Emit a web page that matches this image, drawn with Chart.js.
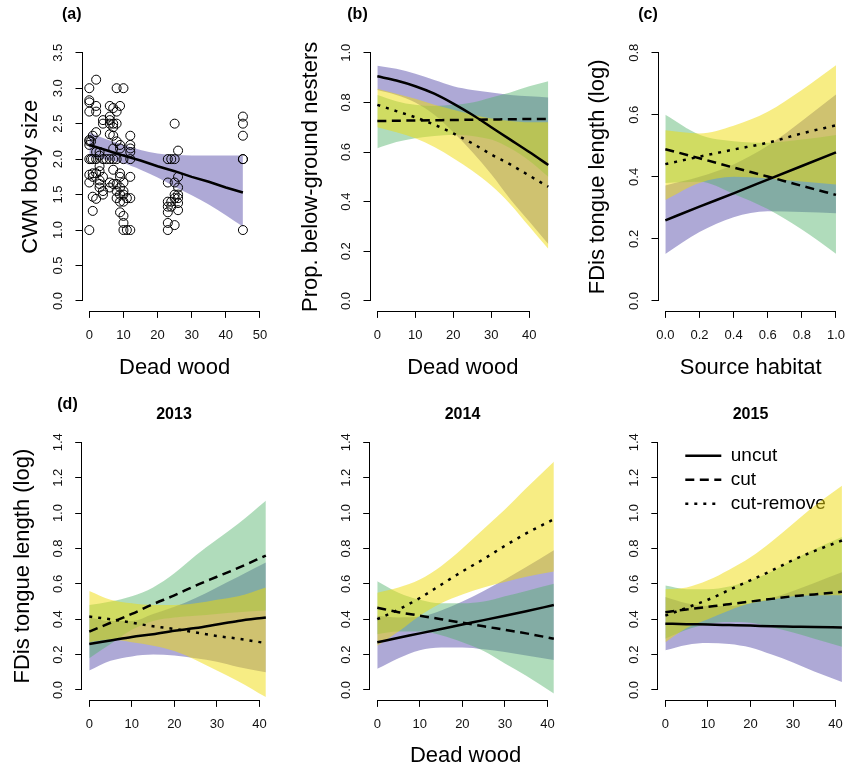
<!DOCTYPE html>
<html lang="en">
<head>
<meta charset="UTF-8">
<title>Dead wood and bee traits</title>
<script src="https://cdn.jsdelivr.net/npm/chart.js"></script>
<style>
  html, body { margin: 0; padding: 0; background: #fff; }
  #wrap { position: relative; width: 849px; height: 769px; }
  canvas { position: absolute; }
</style>
</head>
<body>
<div id="wrap">
  <canvas id="pa" width="283" height="385" style="left:0;top:0"></canvas>
  <canvas id="pb" width="283" height="385" style="left:283px;top:0"></canvas>
  <canvas id="pc" width="283" height="385" style="left:566px;top:0"></canvas>
  <canvas id="pd1" width="283" height="384" style="left:0;top:385px"></canvas>
  <canvas id="pd2" width="283" height="384" style="left:283px;top:385px"></canvas>
  <canvas id="pd3" width="283" height="384" style="left:566px;top:385px"></canvas>
</div>
<script>
// ---- (a) CWM body size vs dead wood: raw sites + fit ----
const aDeadWood = [
  0,0,0,0,0,0,0,0,0,0,0,
  0.5,0.5,
  1,1,1,1,1,1,
  2,2,2,2,2,2,2,2,
  3,3,3,3,3,3,3,
  4,4,4,4,4,4,
  5,
  6,6,6,6,6,6,6,6,
  7,7,7,7,7,7,7,7,
  8,8,8,8,8,8,8,8,
  9,9,9,9,9,9,9,9,9,
  10,10,10,10,10,10,10,10,10,
  11,11,
  12,12,12,12,12,12,12,12,
  23,23,23,23,23,23,23,
  24,24,24,
  25,25,25,25,25,25,
  26,26,26,26,26,26,26,
  45,45,45,45,45,45
];
const aBodySize = [
  3.0,2.83,2.8,2.67,2.27,2.25,2.2,2.0,1.78,1.67,1.0,
  2.25,2.0,
  2.33,2.0,1.8,1.75,1.47,1.27,
  3.12,2.75,2.67,2.38,2.1,2.0,1.8,1.44,
  2.1,2.05,1.9,1.83,1.7,1.65,1.6,
  2.55,2.5,2.0,1.75,1.55,1.5,
  2.0,
  2.75,2.6,2.55,2.5,2.35,2.0,1.67,1.6,
  2.72,2.5,2.45,2.33,2.15,2.0,1.85,1.65,
  3.0,2.67,2.5,2.25,2.0,1.65,1.55,1.45,
  2.75,2.2,2.15,1.8,1.75,1.6,1.5,1.4,1.25,
  3.0,2.0,1.67,1.55,1.5,1.4,1.2,1.1,1.0,
  1.45,1.0,
  2.33,2.2,2.15,2.1,2.0,1.75,1.45,1.0,
  2.0,1.67,1.4,1.33,1.25,1.1,1.0,
  2.0,1.4,1.33,
  2.5,2.0,1.67,1.5,1.45,1.07,
  2.12,1.75,1.6,1.5,1.45,1.38,1.28,
  2.6,2.5,2.33,2.0,2.0,1.0
];
const aGrid = [0, 5, 10, 15, 20, 25, 30, 35, 40, 45];
const aFit  = [2.20, 2.125, 2.05, 1.98, 1.90, 1.83, 1.75, 1.68, 1.60, 1.53];
const aLo   = [2.03, 1.99, 1.94, 1.85, 1.74, 1.61, 1.49, 1.36, 1.21, 1.05];
const aHi   = [2.38, 2.28, 2.20, 2.13, 2.08, 2.06, 2.05, 2.05, 2.05, 2.05];

// ---- (b) proportion below-ground nesters ----
const bGrid = [0, 5, 10, 15, 20, 25, 30, 35, 40, 45];
const bUncut   = [0.905, 0.888, 0.865, 0.835, 0.795, 0.75, 0.70, 0.65, 0.60, 0.548];
const bUncutLo = [0.85, 0.83, 0.80, 0.75, 0.68, 0.60, 0.51, 0.41, 0.32, 0.23];
const bUncutHi = [0.948, 0.935, 0.915, 0.89, 0.865, 0.85, 0.84, 0.83, 0.825, 0.82];
const bCut     = [0.725, 0.726, 0.727, 0.728, 0.729, 0.73, 0.731, 0.732, 0.733, 0.733];
const bCutLo   = [0.615, 0.64, 0.655, 0.665, 0.67, 0.665, 0.65, 0.615, 0.565, 0.50];
const bCutHi   = [0.83, 0.805, 0.79, 0.785, 0.79, 0.80, 0.82, 0.84, 0.865, 0.885];
const bRem     = [0.79, 0.765, 0.74, 0.71, 0.675, 0.635, 0.59, 0.55, 0.505, 0.46];
const bRemLo   = [0.70, 0.68, 0.655, 0.62, 0.575, 0.525, 0.465, 0.39, 0.30, 0.21];
const bRemHi   = [0.855, 0.835, 0.815, 0.79, 0.77, 0.75, 0.735, 0.725, 0.72, 0.72];

// ---- (c) FDis tongue length vs source habitat ----
const cGrid = [0, 0.2, 0.4, 0.6, 0.8, 1.0];
const cUncut   = [0.26, 0.304, 0.347, 0.391, 0.435, 0.479];
const cUncutLo = [0.151, 0.222, 0.27, 0.289, 0.287, 0.283];
const cUncutHi = [0.372, 0.40, 0.44, 0.50, 0.58, 0.665];
const cCut     = [0.489, 0.46, 0.43, 0.401, 0.371, 0.342];
const cCutLo   = [0.38, 0.384, 0.345, 0.296, 0.23, 0.152];
const cCutHi   = [0.60, 0.536, 0.515, 0.51, 0.52, 0.535];
const cRem     = [0.441, 0.465, 0.488, 0.51, 0.54, 0.566];
const cRemLo   = [0.325, 0.38, 0.40, 0.395, 0.385, 0.375];
const cRemHi   = [0.55, 0.54, 0.565, 0.61, 0.68, 0.76];

// ---- (d) FDis tongue length vs dead wood, per year ----
const dGrid = [0, 5, 10, 15, 20, 25, 30, 35, 41.5];
const d13Uncut   = [0.26, 0.28, 0.30, 0.315, 0.335, 0.35, 0.37, 0.39, 0.41];
const d13UncutLo = [0.11, 0.165, 0.19, 0.20, 0.195, 0.18, 0.16, 0.13, 0.10];
const d13UncutHi = [0.41, 0.39, 0.39, 0.43, 0.47, 0.52, 0.58, 0.64, 0.72];
const d13Cut     = [0.33, 0.38, 0.43, 0.485, 0.535, 0.59, 0.64, 0.69, 0.76];
const d13CutLo   = [0.18, 0.26, 0.34, 0.39, 0.41, 0.42, 0.43, 0.44, 0.45];
const d13CutHi   = [0.48, 0.50, 0.53, 0.58, 0.66, 0.76, 0.85, 0.94, 1.07];
const d13Rem     = [0.415, 0.40, 0.38, 0.36, 0.345, 0.325, 0.305, 0.29, 0.265];
const d13RemLo   = [0.27, 0.285, 0.27, 0.25, 0.22, 0.17, 0.11, 0.05, -0.04];
const d13RemHi   = [0.56, 0.51, 0.49, 0.48, 0.48, 0.49, 0.51, 0.53, 0.58];

const d14Uncut   = [0.27, 0.295, 0.32, 0.345, 0.37, 0.395, 0.42, 0.445, 0.48];
const d14UncutLo = [0.12, 0.18, 0.225, 0.24, 0.24, 0.23, 0.215, 0.195, 0.17];
const d14UncutHi = [0.42, 0.41, 0.415, 0.45, 0.50, 0.56, 0.625, 0.695, 0.79];
const d14Cut     = [0.465, 0.44, 0.42, 0.40, 0.38, 0.36, 0.34, 0.32, 0.29];
const d14CutLo   = [0.315, 0.33, 0.33, 0.31, 0.27, 0.22, 0.15, 0.08, -0.02];
const d14CutHi   = [0.615, 0.55, 0.51, 0.49, 0.49, 0.50, 0.53, 0.56, 0.60];
const d14Rem     = [0.40, 0.455, 0.52, 0.595, 0.67, 0.74, 0.815, 0.885, 0.965];
const d14RemLo   = [0.25, 0.33, 0.42, 0.49, 0.54, 0.58, 0.61, 0.64, 0.67];
const d14RemHi   = [0.55, 0.58, 0.625, 0.70, 0.80, 0.91, 1.02, 1.14, 1.29];

const d15Uncut   = [0.375, 0.372, 0.37, 0.367, 0.364, 0.36, 0.358, 0.356, 0.353];
const d15UncutLo = [0.225, 0.255, 0.265, 0.26, 0.24, 0.20, 0.155, 0.105, 0.045];
const d15UncutHi = [0.525, 0.49, 0.475, 0.475, 0.49, 0.52, 0.56, 0.605, 0.665];
const d15Cut     = [0.44, 0.455, 0.47, 0.485, 0.50, 0.515, 0.53, 0.54, 0.555];
const d15CutLo   = [0.29, 0.34, 0.375, 0.385, 0.38, 0.355, 0.325, 0.29, 0.245];
const d15CutHi   = [0.59, 0.57, 0.57, 0.585, 0.62, 0.67, 0.735, 0.795, 0.865];
const d15Rem     = [0.42, 0.465, 0.51, 0.565, 0.62, 0.675, 0.735, 0.785, 0.845];
const d15RemLo   = [0.27, 0.35, 0.40, 0.45, 0.49, 0.51, 0.53, 0.535, 0.535];
const d15RemHi   = [0.57, 0.58, 0.62, 0.68, 0.75, 0.84, 0.94, 1.04, 1.155];

const treatments = ['uncut', 'cut', 'cut-remove'];

// tick values per axis
const aXTicks = [0, 10, 20, 30, 40, 50];
const aYTicks = [0, 0.5, 1.0, 1.5, 2.0, 2.5, 3.0, 3.5];
const bXTicks = [0, 10, 20, 30, 40];
const bYTicks = [0, 0.2, 0.4, 0.6, 0.8, 1.0];
const cXTicks = [0, 0.2, 0.4, 0.6, 0.8, 1.0];
const cYTicks = [0, 0.2, 0.4, 0.6, 0.8];
const dXTicks = [0, 10, 20, 30, 40];
const dYTicks = [0, 0.2, 0.4, 0.6, 0.8, 1.0, 1.2, 1.4];

// ---------------------------------------------------------------
const FONT = '"Liberation Sans", Arial, Helvetica, sans-serif';
Chart.defaults.font.family = FONT;
Chart.defaults.color = '#000';

const PURPLE = 'rgba(75,65,165,0.45)';
const GREEN  = 'rgba(80,178,105,0.45)';
const YELLOW = 'rgba(240,220,10,0.5)';
const DASH = { uncut: [], cut: [9, 5.5], 'cut-remove': [3, 6] };

const pts = (xs, ys) => xs.map((x, i) => ({ x: x, y: ys[i] }));

function band(xs, lo, hi, color, ord) {
  const base = { pointRadius: 0, borderWidth: 0, borderColor: 'rgba(0,0,0,0)',
                 cubicInterpolationMode: 'monotone', order: ord };
  return [
    Object.assign({ data: pts(xs, lo), fill: false }, base),
    Object.assign({ data: pts(xs, hi), fill: '-1', backgroundColor: color }, base)
  ];
}

function fitLine(label, xs, ys) {
  return { label: label, data: pts(xs, ys), borderColor: '#000', borderWidth: 2.5,
           borderDash: DASH[label], backgroundColor: 'rgba(0,0,0,0)', pointRadius: 0,
           fill: false, cubicInterpolationMode: 'monotone', order: 0 };
}

// R style axis line: only from first to last tick
const rAxis = {
  id: 'rAxis',
  afterDraw(chart) {
    const { ctx, scales: { x, y } } = chart;
    const xt = x.ticks, yt = y.ticks;
    ctx.save();
    ctx.strokeStyle = '#000';
    ctx.lineWidth = 1;
    ctx.beginPath();
    const yb = Math.round(x.top) + 0.5;
    ctx.moveTo(x.getPixelForValue(xt[0].value), yb);
    ctx.lineTo(x.getPixelForValue(xt[xt.length - 1].value), yb);
    const xl = Math.round(y.right) - 0.5;
    ctx.moveTo(xl, y.getPixelForValue(yt[0].value));
    ctx.lineTo(xl, y.getPixelForValue(yt[yt.length - 1].value));
    ctx.stroke();
    ctx.restore();
  }
};

// panel letters and year headings
const panelText = {
  id: 'panelText',
  afterDraw(chart, args, opts) {
    const ctx = chart.ctx;
    ctx.save();
    ctx.fillStyle = '#000';
    ctx.textAlign = 'center';
    ctx.textBaseline = 'middle';
    (opts.items || []).forEach(t => {
      ctx.font = 'bold 16px ' + FONT;
      ctx.fillText(t.text, t.x, t.y);
    });
    ctx.restore();
  }
};

// move the chartArea legend to an inset spot
const legendShift = {
  id: 'legendShift',
  afterLayout(chart, args, opts) {
    if (!opts || opts.dx === undefined || !chart.legend) return;
    const lg = chart.legend, ca = chart.chartArea;
    lg.left = ca.left + opts.dx;
    lg.top = ca.top + opts.dy;
    lg.right = lg.left + lg.width;
    lg.bottom = lg.top + lg.height;
  }
};

function makePanel(id, o) {
  const tickFont = { size: 13 };
  const labFont = { size: 22 };
  new Chart(document.getElementById(id), {
    type: 'line',
    data: { datasets: o.datasets },
    options: {
      responsive: false,
      animation: false,
      events: [],
      layout: { padding: { top: o.padTop, right: o.padRight, left: 0, bottom: 0 } },
      scales: {
        x: {
          type: 'linear', min: o.xr[0], max: o.xr[1],
          afterBuildTicks: s => { s.ticks = o.xTicks.map(v => ({ value: v })); },
          afterFit: s => { s.height = o.xH; s.paddingLeft = 0; s.paddingRight = 0; },
          border: { display: false },
          grid: { drawOnChartArea: false, drawTicks: true, tickLength: 7, color: '#000' },
          ticks: { autoSkip: false, maxRotation: 0, padding: 10, color: '#111', font: tickFont,
                   callback: v => Number(v).toFixed(o.xDec) },
          title: { display: !!o.xTitle, text: o.xTitle || '', font: labFont, color: '#000',
                   padding: { top: 0, bottom: o.xTitlePad || 0 } }
        },
        y: {
          type: 'linear', min: o.yr[0], max: o.yr[1],
          afterBuildTicks: s => { s.ticks = o.yTicks.map(v => ({ value: v })); },
          afterFit: s => { s.width = o.yW; s.paddingTop = 0; s.paddingBottom = 0; },
          border: { display: false },
          grid: { drawOnChartArea: false, drawTicks: true, tickLength: 7, color: '#000' },
          ticks: { autoSkip: false, minRotation: 90, maxRotation: 90, crossAlign: 'center',
                   padding: 8, color: '#111', font: tickFont,
                   callback: v => Number(v).toFixed(1) },
          title: { display: !!o.yTitle, text: o.yTitle || '', font: labFont, color: '#000',
                   padding: { top: o.yTitlePad || 0, bottom: 0 } }
        }
      },
      plugins: {
        legend: o.legend || { display: false },
        tooltip: { enabled: false },
        panelText: { items: o.texts },
        legendShift: o.shift || {}
      }
    },
    plugins: [rAxis, panelText, legendShift]
  });
}

function treatmentSets(xs, u, uLo, uHi, c, cLo, cHi, r, rLo, rHi) {
  return [].concat(
    band(xs, uLo, uHi, PURPLE, 30),
    band(xs, cLo, cHi, GREEN, 20),
    band(xs, rLo, rHi, YELLOW, 10),
    [fitLine(treatments[0], xs, u), fitLine(treatments[1], xs, c), fitLine(treatments[2], xs, r)]
  );
}

// (a)
makePanel('pa', {
  datasets: [].concat(
    band(aGrid, aLo, aHi, PURPLE, 20),
    [{ data: pts(aDeadWood, aBodySize), showLine: false, pointRadius: 4.5, pointBorderWidth: 1,
       pointBorderColor: '#000', pointBackgroundColor: 'rgba(0,0,0,0)', borderColor: '#000',
       backgroundColor: 'rgba(0,0,0,0)', fill: false, order: 10 },
     { data: pts(aGrid, aFit), borderColor: '#000', borderWidth: 2.5, pointRadius: 0, fill: false, order: 0 }]
  ),
  xr: [-2, 52], yr: [-0.14, 3.64], xTicks: aXTicks, yTicks: aYTicks, xDec: 0,
  padTop: 42.8, padRight: 16.2, yW: 82.5, xH: 74.1,
  xTitle: 'Dead wood', xTitlePad: 3.8, yTitle: 'CWM body size', yTitlePad: 17.8,
  texts: [{ text: '(a)', x: 71.7, y: 15 }]
});

// (b)
makePanel('pb', {
  datasets: treatmentSets(bGrid, bUncut, bUncutLo, bUncutHi, bCut, bCutLo, bCutHi, bRem, bRemLo, bRemHi),
  xr: [-1.8, 46.8], yr: [-0.04, 1.04], xTicks: bXTicks, yTicks: bYTicks, xDec: 0,
  padTop: 42.8, padRight: 10.9, yW: 87.5, xH: 74.1,
  xTitle: 'Dead wood', xTitlePad: 3.8, yTitle: 'Prop. below-ground nesters', yTitlePad: 14.8,
  texts: [{ text: '(b)', x: 74.5, y: 15 }]
});

// (c)
makePanel('pc', {
  datasets: treatmentSets(cGrid, cUncut, cUncutLo, cUncutHi, cCut, cCutLo, cCutHi, cRem, cRemLo, cRemHi),
  xr: [-0.04, 1.04], yr: [-0.032, 0.832], xTicks: cXTicks, yTicks: cYTicks, xDec: 1,
  padTop: 42.8, padRight: 6.2, yW: 92.5, xH: 74.1,
  xTitle: 'Source habitat', xTitlePad: 3.8, yTitle: 'FDis tongue length (log)', yTitlePad: 18.3,
  texts: [{ text: '(c)', x: 82, y: 15 }]
});

// (d) 2013
makePanel('pd1', {
  datasets: treatmentSets(dGrid, d13Uncut, d13UncutLo, d13UncutHi, d13Cut, d13CutLo, d13CutHi, d13Rem, d13RemLo, d13RemHi),
  xr: [-1.66, 43.16], yr: [-0.056, 1.456], xTicks: dXTicks, yTicks: dYTicks, xDec: 0,
  padTop: 47.4, padRight: 10.1, yW: 82.2, xH: 69.1,
  yTitle: 'FDis tongue length (log)', yTitlePad: 9.3,
  texts: [{ text: '(d)', x: 67.5, y: 20 }, { text: '2013', x: 174, y: 30 }]
});

// (d) 2014
makePanel('pd2', {
  datasets: treatmentSets(dGrid, d14Uncut, d14UncutLo, d14UncutHi, d14Cut, d14CutLo, d14CutHi, d14Rem, d14RemLo, d14RemHi),
  xr: [-1.66, 43.16], yr: [-0.056, 1.456], xTicks: dXTicks, yTicks: dYTicks, xDec: 0,
  padTop: 47.4, padRight: 5.1, yW: 87.2, xH: 69.1,
  xTitle: 'Dead wood', xTitlePad: 0,
  texts: [{ text: '2014', x: 179.5, y: 30 }]
});

// (d) 2015 with legend
makePanel('pd3', {
  datasets: treatmentSets(dGrid, d15Uncut, d15UncutLo, d15UncutHi, d15Cut, d15CutLo, d15CutHi, d15Rem, d15RemLo, d15RemHi),
  xr: [-1.66, 43.16], yr: [-0.056, 1.456], xTicks: dXTicks, yTicks: dYTicks, xDec: 0,
  padTop: 47.4, padRight: 0, yW: 92.3, xH: 69.1,
  texts: [{ text: '2015', x: 184.5, y: 30 }],
  legend: {
    display: true, position: 'chartArea', align: 'start',
    labels: {
      usePointStyle: true, pointStyle: 'line', pointStyleWidth: 36, padding: 5,
      font: { size: 19 }, color: '#000',
      generateLabels: chart => chart.data.datasets.filter(d => d.label).map(d => ({
        text: d.label, fontColor: '#000', strokeStyle: '#000', fillStyle: 'rgba(0,0,0,0)',
        lineWidth: 2.5, lineDash: d.borderDash, lineCap: 'butt', pointStyle: 'line', hidden: false
      }))
    }
  },
  shift: { dx: 22, dy: 8.8 }
});
</script>
</body>
</html>
